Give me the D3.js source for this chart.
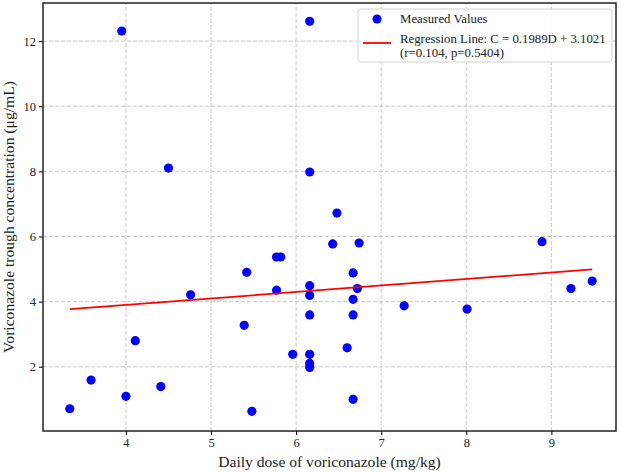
<!DOCTYPE html>
<html>
<head>
    <title>Voriconazole dose vs trough</title>
    <script src="https://d3js.org/d3.v7.min.js"></script>
    <style>
        body { margin: 0; padding: 0; background: #fff; overflow: hidden; }
        svg text { font-family: "Liberation Serif", "Times New Roman", serif; fill: #222; }
        .grid line { stroke: #c8c8c8; stroke-dasharray: 4,2; stroke-width: 1; }
    </style>
</head>
<body>
    <div id="chart"></div>
    <script>
        // Daily dose (mg/kg) and trough concentration (ug/mL)
        const dose = [3.34, 3.59, 4.00, 4.11, 4.41, 4.50, 4.76, 5.42, 5.39, 5.48, 3.95,
                      6.16, 6.16, 6.48, 6.43, 6.74, 5.77, 5.82, 6.67, 5.77, 6.16, 6.16,
                      6.72, 6.67, 7.27, 6.16, 6.67, 5.96, 6.16, 6.60, 6.16, 6.16, 6.67,
                      8.01, 8.89, 9.23, 9.48];
        const conc = [0.71, 1.59, 1.09, 2.80, 1.39, 8.10, 4.21, 4.90, 3.27, 0.63, 12.31,
                      12.61, 7.98, 6.72, 5.77, 5.80, 5.37, 5.37, 4.88, 4.35, 4.49, 4.19,
                      4.40, 4.07, 3.87, 3.59, 3.59, 2.38, 2.38, 2.58, 2.10, 1.98, 1.00,
                      3.77, 5.84, 4.40, 4.63];
        const slope = 0.1989, intercept = 3.1021;
        const xTicks = [4, 5, 6, 7, 8, 9];
        const yTicks = [2, 4, 6, 8, 10, 12];
        const legendLabels = ['Measured Values', 'Regression Line: C = 0.1989D + 3.1021', '(r=0.104, p=0.5404)'];

        const width = 621, height = 473;
        const margin = { left: 43, right: 5, top: 3, bottom: 42 };

        const svg = d3.select('#chart').append('svg')
            .attr('width', width)
            .attr('height', height);

        const x = d3.scaleLinear().domain([3.025, 9.76]).range([margin.left, width - margin.right]);
        const y = d3.scaleLinear().domain([0.026, 13.17]).range([height - margin.bottom, margin.top]);

        // grid
        const grid = svg.append('g').attr('class', 'grid');
        grid.selectAll('.gx').data(xTicks).join('line')
            .attr('x1', d => x(d)).attr('x2', d => x(d))
            .attr('y1', y.range()[0]).attr('y2', y.range()[1]);
        grid.selectAll('.gy').data(yTicks).join('line')
            .attr('x1', x.range()[0]).attr('x2', x.range()[1])
            .attr('y1', d => y(d)).attr('y2', d => y(d));

        // axes
        const xAxis = svg.append('g')
            .attr('transform', `translate(0,${y.range()[0]})`)
            .call(d3.axisBottom(x).tickValues(xTicks).tickFormat(d3.format('d')).tickSize(4).tickPadding(3));
        const yAxis = svg.append('g')
            .attr('transform', `translate(${x.range()[0]},0)`)
            .call(d3.axisLeft(y).tickValues(yTicks).tickFormat(d3.format('d')).tickSize(4).tickPadding(3));
        [xAxis, yAxis].forEach(a => {
            a.select('.domain').remove();
            a.selectAll('text').attr('font-size', 12.5).attr('fill', '#222')
                .style('font-family', '"Liberation Serif", serif');
            a.selectAll('line').attr('stroke', '#222').attr('stroke-width', 1.2);
        });

        // points
        const pts = dose.map((d, i) => ({ d, c: conc[i] }));
        svg.append('g').selectAll('circle').data(pts).join('circle')
            .attr('cx', p => x(p.d))
            .attr('cy', p => y(p.c))
            .attr('r', 4.6)
            .attr('fill', '#0000ff');

        // regression line
        const xmin = d3.min(dose), xmax = d3.max(dose);
        svg.append('line')
            .attr('x1', x(xmin)).attr('y1', y(slope * xmin + intercept))
            .attr('x2', x(xmax)).attr('y2', y(slope * xmax + intercept))
            .attr('stroke', '#ff0000').attr('stroke-width', 1.8);

        // frame
        svg.append('rect')
            .attr('x', x.range()[0]).attr('y', y.range()[1])
            .attr('width', x.range()[1] - x.range()[0])
            .attr('height', y.range()[0] - y.range()[1])
            .attr('fill', 'none').attr('stroke', '#222').attr('stroke-width', 1.5);

        // axis labels
        svg.append('text')
            .attr('x', (x.range()[0] + x.range()[1]) / 2).attr('y', 467)
            .attr('text-anchor', 'middle').attr('font-size', 15.6)
            .text('Daily dose of voriconazole (mg/kg)');
        svg.append('text')
            .attr('transform', `translate(14,${(y.range()[0] + y.range()[1]) / 2}) rotate(-90)`)
            .attr('text-anchor', 'middle').attr('font-size', 15.6)
            .text('Voriconazole trough concentration (μg/mL)');

        // legend
        const lg = svg.append('g').attr('transform', 'translate(358,9)');
        lg.append('rect')
            .attr('width', 254).attr('height', 53).attr('rx', 3)
            .attr('fill', 'rgba(255,255,255,0.85)').attr('stroke', '#d0d0d0');
        lg.append('circle').attr('cx', 19).attr('cy', 10).attr('r', 4.6).attr('fill', '#0000ff');
        lg.append('line').attr('x1', 5).attr('x2', 33).attr('y1', 34).attr('y2', 34)
            .attr('stroke', '#ff0000').attr('stroke-width', 1.8);
        lg.selectAll('.lt').data(legendLabels).join('text')
            .attr('x', 42)
            .attr('y', (d, i) => [14, 34, 48][i])
            .attr('font-size', 12.8)
            .text(d => d);
    </script>
</body>
</html>
